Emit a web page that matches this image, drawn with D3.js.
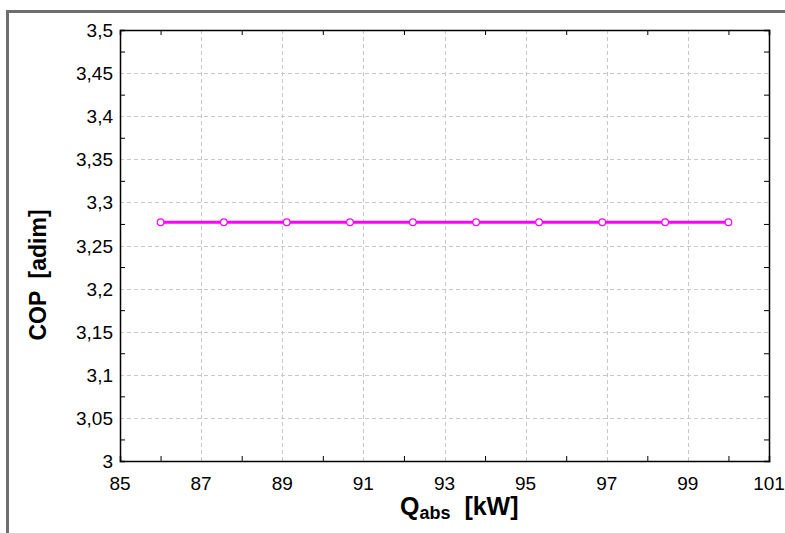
<!DOCTYPE html>
<meta charset="utf-8">
<script src="https://d3js.org/d3.v7.min.js"></script>
<style>
  body { margin: 0; background: #fff; }
  text { font-family: "Liberation Sans", Arial, sans-serif; }
</style>
<body>
<div id="chart"></div>
<script>
// values
var qabs = [86, 87.56, 89.11, 90.67, 92.22, 93.78, 95.33, 96.89, 98.44, 100];
var cop = [3.277, 3.277, 3.277, 3.277, 3.277, 3.277, 3.277, 3.277, 3.277, 3.277];
var xTicks = [85, 87, 89, 91, 93, 95, 97, 99, 101];
var xMinor = [86, 88, 90, 92, 94, 96, 98, 100];
var yTicks = [3, 3.05, 3.1, 3.15, 3.2, 3.25, 3.3, 3.35, 3.4, 3.45, 3.5];
var yMinor = [3.025, 3.075, 3.125, 3.175, 3.225, 3.275, 3.325, 3.375, 3.425, 3.475];

var W = 785, H = 533;
var margin = {top: 30, right: 16, bottom: 72, left: 120},
    width = W - margin.left - margin.right,
    height = H - margin.top - margin.bottom;

var root = d3.select("#chart").append("svg")
    .attr("width", W).attr("height", H);

// outer grey frame
root.append("path")
  .attr("d", "M7.5," + H + "V11.5H" + W)
  .attr("fill", "none")
  .attr("stroke", "#6e6e6e")
  .attr("stroke-width", 3);

var svg = root.append("g")
    .attr("transform", "translate(" + margin.left + "," + margin.top + ")");

var x = d3.scaleLinear().domain([85, 101]).range([0, width]);
var y = d3.scaleLinear().domain([3, 3.5]).range([height, 0]);
var fmt = function(d) { return String(+d.toFixed(2)).replace(".", ","); };

// grid
svg.append("g").selectAll("line").data(xTicks.slice(1, -1)).join("line")
  .attr("x1", function(d) { return Math.round(x(d)) + 0.5; })
  .attr("x2", function(d) { return Math.round(x(d)) + 0.5; })
  .attr("y1", 0).attr("y2", height)
  .attr("stroke", "#c8c8c8").attr("stroke-dasharray", "4,3");
svg.append("g").selectAll("line").data(yTicks.slice(1, -1)).join("line")
  .attr("y1", function(d) { return Math.round(y(d)) + 0.5; })
  .attr("y2", function(d) { return Math.round(y(d)) + 0.5; })
  .attr("x1", 0).attr("x2", width)
  .attr("stroke", "#c8c8c8").attr("stroke-dasharray", "4,3");

// axes (inward minor ticks on all sides)
svg.append("g").attr("transform", "translate(0," + height + ")")
  .call(d3.axisBottom(x).tickValues(xMinor).tickSize(-5).tickFormat(""));
svg.append("g")
  .call(d3.axisTop(x).tickValues(xMinor).tickSize(-5).tickFormat(""));
svg.append("g")
  .call(d3.axisLeft(y).tickValues(yMinor).tickSize(-5).tickFormat(""));
svg.append("g").attr("transform", "translate(" + width + ",0)")
  .call(d3.axisRight(y).tickValues(yMinor).tickSize(-5).tickFormat(""));
svg.selectAll(".domain").attr("stroke", "#000").attr("stroke-width", 1.5);

// tick labels
svg.append("g").selectAll("text").data(xTicks).join("text")
  .attr("x", function(d) { return x(d); })
  .attr("y", height + 29)
  .attr("text-anchor", "middle")
  .style("font-size", "19px")
  .text(function(d) { return d; });
svg.append("g").selectAll("text").data(yTicks).join("text")
  .attr("x", -7)
  .attr("y", function(d) { return y(d) + 7; })
  .attr("text-anchor", "end")
  .style("font-size", "19px")
  .text(fmt);

// series
svg.append("path")
  .datum(qabs)
  .attr("fill", "none")
  .attr("stroke", "#ff00ff")
  .attr("stroke-width", 3)
  .attr("d", d3.line()
    .x(function(d) { return x(d); })
    .y(function(d, i) { return y(cop[i]); }));
svg.append("g").selectAll("circle").data(qabs).join("circle")
  .attr("cx", function(d) { return x(d); })
  .attr("cy", function(d, i) { return y(cop[i]); })
  .attr("r", 3.3)
  .attr("fill", "#fff")
  .attr("stroke", "#ff00ff")
  .attr("stroke-width", 1.2);

// axis titles
var xl = root.append("text")
  .attr("x", 400).attr("y", 515)
  .style("white-space", "pre")
  .style("font-size", "25px").style("font-weight", "bold");
xl.append("tspan").text("Q");
xl.append("tspan").attr("dy", 4).style("font-size", "18px").text("abs");
xl.append("tspan").attr("dy", -4).text("  [kW]");

root.append("text")
  .attr("transform", "translate(46,275) rotate(-90)")
  .attr("text-anchor", "middle")
  .style("white-space", "pre")
  .style("font-size", "23px").style("font-weight", "bold")
  .text("COP  [adim]");
</script>
</body>
